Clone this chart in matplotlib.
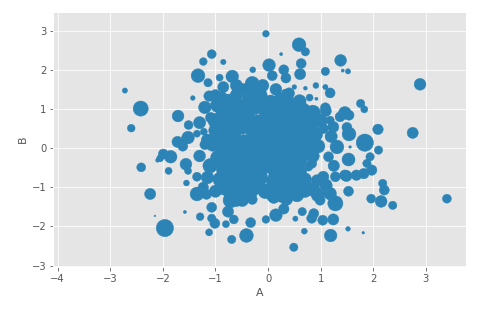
import matplotlib
matplotlib.use("Agg")
import matplotlib.pyplot as plt
import pandas as pd

# points: (A, B, marker size)
outer = [
    (-0.04, 2.92, 45), (0.59, 2.64, 190), (0.71, 2.46, 70), (0.25, 2.40, 10),
    (-1.07, 2.40, 80), (-1.23, 2.21, 60), (-0.85, 2.20, 30), (1.38, 2.24, 140),
    (1.42, 1.98, 10), (1.52, 1.96, 28), (1.09, 1.96, 70), (-1.33, 1.85, 190),
    (-0.29, 2.00, 35), (0.02, 2.12, 160), (0.30, 2.00, 100), (0.63, 2.16, 100),
    (0.61, 1.89, 125), (0.34, 1.79, 100), (0.08, 1.85, 100), (-0.92, 1.80, 50),
    (-0.68, 1.83, 160), (-1.14, 1.67, 70), (-0.30, 1.65, 200), (-0.52, 1.38, 10),
    (-0.85, 1.56, 125), (-0.87, 1.31, 100), (-2.72, 1.47, 28), (-1.43, 1.28, 22),
    (-2.42, 1.01, 230), (-2.60, 0.51, 60), (-1.71, 0.82, 140), (-1.12, 1.33, 110),
    (-1.20, 1.04, 160), (-1.09, 0.78, 110), (-1.51, 0.59, 80), (-1.52, 0.27, 160),
    (-1.72, 0.16, 125), (-1.62, 0.05, 100), (-1.20, 0.09, 100), (-1.35, 0.37, 50),
    (-1.22, 0.42, 50), (-1.99, -0.15, 100), (-1.85, -0.22, 160), (-2.05, -0.26, 50),
    (-2.10, -0.31, 15), (-2.41, -0.49, 80), (-1.89, -0.58, 50), (-1.56, -0.41, 140),
    (-1.52, -0.58, 50), (-1.55, -0.89, 35), (-1.35, -0.73, 80), (-1.35, -1.17, 190),
    (-1.23, -1.00, 110), (-1.17, -1.18, 100), (-2.24, -1.17, 125), (-2.15, -1.73, 3),
    (-1.58, -1.63, 10), (-1.29, -1.75, 60), (-1.07, -1.51, 100), (-1.07, -1.79, 70),
    (-1.01, -1.92, 100), (-1.12, -2.15, 50), (-1.96, -2.04, 300), (-0.80, -1.94, 50),
    (-0.69, -2.33, 70), (-0.41, -2.23, 190), (-0.33, -1.90, 100), (-0.65, -1.82, 80),
    (-0.76, -1.62, 125), (-0.71, -1.33, 230), (-0.49, -1.33, 160), (-0.30, -1.31, 100),
    (-0.04, -1.82, 60), (0.15, -1.71, 160), (0.30, -1.55, 110), (0.11, -1.26, 140),
    (0.49, -2.53, 70), (0.52, -1.80, 28), (0.69, -2.12, 35), (0.65, -1.62, 70),
    (0.87, -1.67, 100), (0.83, -1.79, 100), (1.04, -1.84, 100), (1.24, -1.82, 125),
    (1.19, -2.23, 160), (1.52, -2.06, 22), (1.81, -2.16, 7), (1.28, -1.41, 230),
    (1.18, -1.16, 160), (0.99, -1.33, 100), (1.53, -1.10, 100), (1.96, -1.29, 80),
    (2.15, -1.36, 140), (2.21, -1.07, 100), (2.18, -0.90, 70), (2.37, -1.46, 70),
    (3.40, -1.29, 80), (2.89, 1.63, 140), (2.75, 0.39, 125), (2.09, 0.48, 110),
    (2.10, -0.05, 70), (1.84, 0.14, 300), (1.53, -0.29, 170), (1.54, 0.36, 190),
    (1.50, 0.53, 100), (1.46, 0.90, 160), (1.54, 0.84, 100), (1.76, 1.14, 70),
    (1.83, 0.99, 50), (1.18, 1.41, 100), (1.09, 1.56, 28), (0.91, 1.60, 35),
    (0.71, 1.53, 15), (0.79, 1.29, 50), (0.92, 1.26, 10), (0.50, 1.56, 22),
    (0.32, 1.43, 35), (1.09, 1.03, 100), (1.94, -0.22, 70), (1.82, -0.65, 110),
    (1.97, -0.56, 110), (1.88, -0.39, 70), (1.49, -0.71, 125), (1.28, -0.73, 100),
    (1.31, 0.03, 190), (1.15, -0.22, 100), (1.05, -0.73, 125), (0.93, -0.82, 125),
    (0.83, -0.39, 100), (0.77, -0.48, 70), (0.04, -0.52, 100), (1.24, 0.54, 125),
    (1.05, 0.50, 100), (1.37, 0.80, 100), (1.18, 0.71, 70), (1.56, 0.03, 7),
    (1.46, -0.69, 110), (1.68, -0.69, 110),
]

core = [
    (-0.95, 1.10, 230), (-0.75, 1.20, 200), (-0.55, 1.05, 250), (-0.35, 1.25, 220),
    (-0.15, 1.35, 200), (0.05, 1.15, 260), (0.25, 1.25, 180), (0.45, 1.10, 220),
    (0.65, 0.95, 280), (0.85, 0.90, 240), (0.40, 1.40, 120), (-0.10, 1.60, 150),
    (0.15, 1.50, 140), (-0.45, 1.50, 140), (0.60, 1.20, 170), (-0.60, 1.35, 160),
    (-1.00, 0.70, 220), (-0.80, 0.85, 240), (-0.60, 0.70, 260), (-0.40, 0.80, 230),
    (-0.20, 0.65, 250), (0.00, 0.85, 280), (0.20, 0.70, 260), (0.40, 0.80, 250),
    (0.60, 0.65, 280), (0.80, 0.60, 250), (1.00, 0.70, 180), (-0.70, 0.50, 230),
    (-0.30, 0.45, 200), (0.10, 0.50, 270), (0.50, 0.45, 240), (0.90, 0.35, 210),
    (-0.90, 0.30, 220), (-0.65, 0.25, 250), (-0.45, 0.15, 230), (-0.20, 0.25, 240),
    (0.05, 0.20, 280), (0.30, 0.30, 250), (0.55, 0.20, 260), (0.75, 0.10, 230),
    (-0.80, 0.00, 210), (-0.55, -0.05, 220), (-0.30, 0.00, 250), (0.15, -0.05, 240),
    (0.40, 0.00, 260), (0.65, -0.10, 220), (0.95, 0.05, 190), (-0.05, 0.05, 230),
    (-0.95, -0.25, 230), (-0.70, -0.35, 240), (-0.45, -0.30, 250), (-0.20, -0.25, 230),
    (0.05, -0.35, 190), (0.30, -0.30, 260), (0.50, -0.40, 250), (-1.10, -0.45, 210),
    (-0.60, -0.60, 260), (-0.35, -0.55, 230), (0.25, -0.55, 250), (0.45, -0.65, 240),
    (-0.85, -0.55, 190), (-0.10, -0.50, 200),
    (-0.90, -0.80, 240), (-0.65, -0.85, 260), (-0.40, -0.80, 250), (-0.15, -0.75, 230),
    (0.10, -0.85, 190), (0.30, -0.90, 250), (0.50, -0.80, 230), (-0.75, -1.05, 240),
    (-0.50, -1.10, 230), (-0.25, -1.00, 220), (0.40, -1.10, 250), (0.20, -1.05, 200),
    (-0.05, -1.10, 220), (0.55, -1.20, 180), (-0.60, -1.30, 220), (0.35, -1.30, 160),
    (-1.00, 0.45, 180), (0.75, 0.35, 220), (0.85, -0.20, 170), (-0.25, 1.05, 230),
    (0.30, 1.00, 220), (-0.75, 0.65, 220),
]

core2 = [
    (-0.85, 0.95, 220), (-0.65, 1.00, 230), (-0.45, 0.95, 230), (-0.05, 1.00, 240),
    (0.15, 0.95, 220), (0.50, 0.95, 240), (0.75, 0.80, 240), (-0.90, 0.55, 220),
    (-0.50, 0.55, 240), (-0.10, 0.60, 240), (0.30, 0.55, 240), (0.70, 0.50, 240),
    (-1.05, 0.10, 200), (-0.70, 0.10, 240), (-0.10, 0.40, 220), (0.20, 0.10, 240),
    (0.60, 0.05, 230), (0.85, 0.15, 200), (-0.85, -0.10, 220), (-0.60, -0.20, 230),
    (-0.30, -0.15, 230), (0.00, -0.15, 220), (0.35, -0.15, 240), (0.60, -0.30, 220),
    (-0.75, -0.70, 240), (-0.50, -0.70, 240), (-0.25, -0.45, 220), (0.15, -0.70, 220),
    (0.40, -0.45, 230), (0.60, -0.60, 200), (-0.85, -1.00, 220), (-0.35, -1.15, 220),
    (0.10, -1.20, 200), (0.25, -1.20, 200), (0.50, -1.00, 200), (-0.20, -0.90, 220),
    (0.70, -0.80, 180), (0.85, -1.05, 200), (0.95, -1.20, 180), (1.10, -0.95, 160),
    (0.70, -1.10, 160), (-1.30, 0.65, 150), (-1.15, 0.20, 160), (-1.30, -0.20, 140),
    (-1.15, -0.75, 160), (-1.00, -1.10, 150), (-0.60, 1.60, 150), (-0.25, 1.50, 130),
    (-1.00, 1.35, 130), (1.20, 0.30, 150), (1.10, 0.95, 120), (1.25, -0.45, 130),
]

df = pd.DataFrame(outer + core + core2, columns=["A", "B", "size"])

plt.style.use("ggplot")
fig = plt.figure(figsize=(494 / 72, 311 / 72), dpi=72)
ax = fig.add_axes([0.108, 0.142, 0.835, 0.82])
ax.scatter(df["A"], df["B"], s=df["size"], facecolors="#2b83b6",
           edgecolors="#2b83b6", linewidths=0.4)
ax.set_xlim(-4.08, 3.76)
ax.set_ylim(-3.03, 3.48)
ax.set_xticks(range(-4, 4))
ax.set_yticks(range(-3, 4))
ax.set_xlabel("A", fontsize=11)
ax.set_ylabel("B", fontsize=11)
fig.savefig("out.png", dpi=72)
